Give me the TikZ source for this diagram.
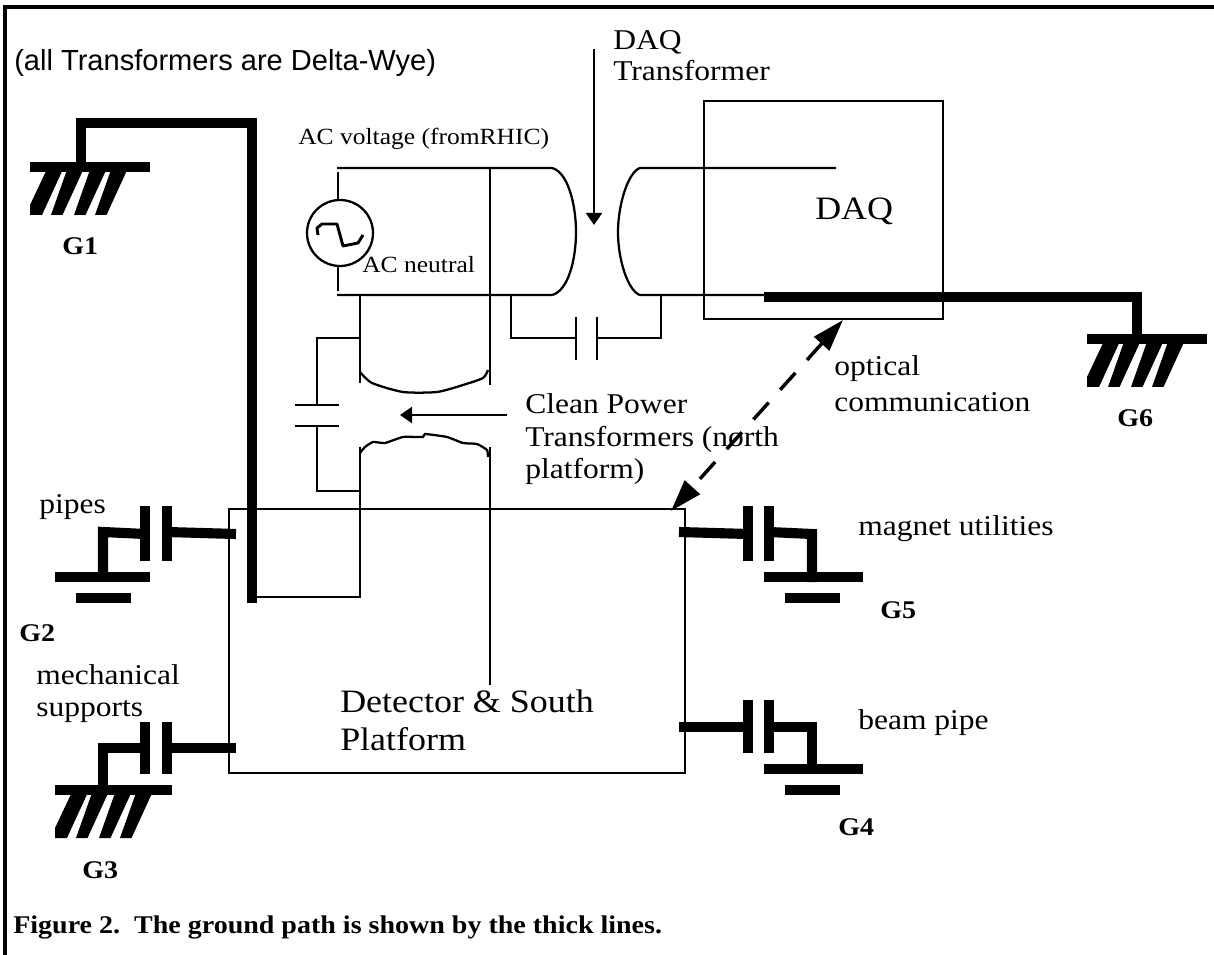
\documentclass[tikz,border=0pt]{standalone}
\usepackage{fontspec}
\setmainfont[FakeStretch=1.1]{Liberation Serif}
\newfontfamily\hdrfont{Liberation Sans}
\usetikzlibrary{arrows.meta}
\tikzset{
  wire/.style={line width=1.7pt},
  gpath/.style={line width=7.6pt},
  lbl/.style={inner sep=0pt,anchor=base west,font=\fontsize{21.5}{21.5}\selectfont},
  smalllbl/.style={lbl,font=\fontsize{17.4}{17.4}\selectfont},
  biglbl/.style={lbl,font=\fontsize{24.5}{24.5}\selectfont},
  glbl/.style={lbl,font=\fontsize{19.1}{19.1}\selectfont\bfseries},
  pointer/.style={wire,-{Triangle[length=9pt,width=12pt]}}
}
\begin{document}
\begin{tikzpicture}[x=0.75pt,y=-0.75pt]
\useasboundingbox (0,0) rectangle (1214,955);
\coordinate (TL) at (229,509);
\coordinate (BR) at (685,773);
\coordinate (Ptop) at (337,168);
\coordinate (Pbot) at (337,295);
\coordinate (Lcap) at (317,338);
\coordinate (Dcap) at (511,338);
% page frame
\draw[line width=2.8pt] (5,955)--(5,7)--(1214,7);
% boxes
\draw[wire] (TL) rectangle (BR);
\draw[wire] (704,101) rectangle (943,319);
% hatched grounds
\foreach \X/\Y/\W in {30/167/120,55/790/117,1087/339/120}{
  \fill[black] (\X,\Y-5)rectangle(\X+\W,\Y+5);
  \fill[black] (\X,\Y+38)--(\X+18,\Y)--(\X+34,\Y)--(\X+12,\Y+48)--(\X,\Y+48)--cycle;
  \foreach \o in {21,44,65}
    \fill[black] (\X+\o,\Y+48)--(\X+\o+11.5,\Y+48)--(\X+\o+33.5,\Y)--(\X+\o+17,\Y)--cycle;
}
% plain grounds
\foreach \X/\Y/\W in {55/577/95,764/577/99,764/769/99}{
  \draw[gpath] (\X,\Y)--(\X+\W,\Y);
  \draw[gpath] (\X+21,\Y+21)--(\X+21+55,\Y+21);
}
% ground path
\draw[gpath] (81,167)--(81,123)--(252,123)--(252,603);
\draw[gpath] (764,297)--(1137,297)--(1137,339);
% capacitors to ground
\foreach \x/\y/\h in {145/506/55,167/506/55,145/722/52,167/722/52,748/506/55,769/506/55,748/700/53,769/700/53}
  \draw[gpath] (\x,\y)--(\x,\y+\h);
\draw[gpath] (145,534)--(103,532)--(103,577);
\draw[gpath] (167,532)--(236,534);
\draw[gpath] (145,748)--(103,748)--(103,790);
\draw[gpath] (167,748)--(236,748);
\draw[gpath] (679,532)--(748,534);
\draw[gpath] (769,532)--(812,534)--(812,582);
\draw[gpath] (679,727)--(748,727);
\draw[gpath] (769,727)--(812,727)--(812,774);
% transformers
\draw[wire] (Ptop)--(552,168) .. controls (568,172) and (576,205) .. (576,232) .. controls (576,260) and (568,291) .. (552,295)--(Pbot);
\draw[wire] (836,168)--(640,168) .. controls (628,172) and (618,205) .. (618,232) .. controls (618,260) and (628,291) .. (640,295)--(764,295);
\draw[wire] (490,168)--(490,385);
\draw[wire] (490,447)--(490,685);
\draw[wire] (360,295)--(360,383);
\draw[wire] (252,597)--(360,597)--(360,447);
\draw[wire] plot[smooth,tension=0.4] coordinates {(360,372)(372,383)(403,392)(437,392)(463,385)(483,378)(488,370)};
\draw[wire] plot[smooth,tension=0.3] coordinates {(360,453)(365,447)(373,442)(385,443)(403,437)(423,437)(425,434)(447,437)(463,443)(477,444)(487,450)(488,457)};
% capacitors, thin
\draw[wire] (360,338)--(Lcap)--(317,405);
\draw[wire] (295,405)--(339,405);
\draw[wire] (295,426)--(339,426);
\draw[wire] (317,426)--(317,491)--(360,491);
\draw[wire] (511,295)--(Dcap)--(576,338);
\draw[wire] (576,317)--(576,360);
\draw[wire] (597,317)--(597,360);
\draw[wire] (597,338)--(661,338)--(661,295);
% AC source
\draw[wire] (340,233) circle (33);
\draw[wire] (338,172)--(338,200);
\draw[wire] (338,266)--(338,291);
\draw[line width=2.2pt,line join=round] (318,235)--(317,228)--(322,224)--(337,224)--(343,246)--(358,243)--(363,235);
% arrows
\draw[pointer] (594,49)--(594,225);
\draw[pointer] (507,415)--(400,415);
\draw[line width=2.6pt,dash pattern=on 17pt off 13pt,{Triangle[length=24pt,width=15pt]}-{Triangle[length=24pt,width=15pt]}] (843,320)--(671,511);
% labels
\node[lbl,font=\hdrfont\fontsize{21.8}{21.8}\selectfont] (hdr) at (14,71) {(all Transformers are Delta-Wye)};
\node[lbl] (daqa) at (613,50) {DAQ};
\node[lbl] (daqb) at (613,81) {Transformer};
\node[smalllbl] (acv) at (298,145) {AC voltage (fromRHIC)};
\node[smalllbl] (acn) at (362,273) {AC neutral};
\node[biglbl] (daq) at (815,220) {DAQ};
\node[lbl] (cpa) at (525,414) {Clean Power};
\node[lbl] (cpb) at (525,447) {Transformers (north};
\node[lbl] (cpc) at (525,479) {platform)};
\node[lbl] (opta) at (834,376) {optical};
\node[lbl] (optb) at (834,412) {communication};
\node[lbl] (pip) at (39,513) {pipes};
\node[lbl] (mecha) at (36,684) {mechanical};
\node[lbl] (mechb) at (36,716) {supports};
\node[lbl] (mag) at (858,535) {magnet utilities};
\node[lbl] (bpi) at (858,729) {beam pipe};
\node[biglbl] (deta) at (340,712) {Detector \& South};
\node[biglbl] (detb) at (340,750) {Platform};
\node[glbl] (ga) at (62,255) {G1};
\node[glbl] (gb) at (19,641) {G2};
\node[glbl] (gc) at (82,878) {G3};
\node[glbl] (gd) at (838,835) {G4};
\node[glbl] (ge) at (880,618) {G5};
\node[glbl] (gf) at (1117,427) {G6};
\node[glbl] (cap) at (13,933) {Figure 2.\ \ The ground path is shown by the thick lines.};
\end{tikzpicture}
\end{document}
